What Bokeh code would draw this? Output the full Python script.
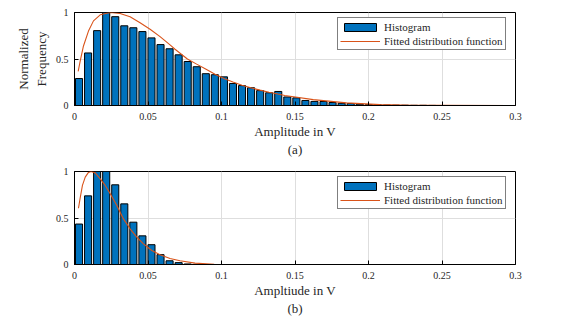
import numpy as np
from bokeh.plotting import figure
from bokeh.models import Range1d, FixedTicker, Legend, LegendItem
from bokeh.layouts import column
from bokeh.embed import file_html
from bokeh.resources import INLINE

# ---------------- data ----------------
bin_width = 0.00616

hist_a = [0.29, 0.565, 0.805, 1.0, 0.955, 0.857, 0.836, 0.795, 0.727, 0.655,
          0.61, 0.545, 0.473, 0.417, 0.342, 0.331, 0.308, 0.237, 0.214, 0.191,
          0.16, 0.137, 0.151, 0.092, 0.082, 0.054, 0.044, 0.043, 0.032, 0.024,
          0.021, 0.014, 0.009, 0.007, 0.005, 0.004, 0.003, 0.002, 0.002, 0.001]

hist_b = [0.435, 0.738, 1.0, 1.0, 0.857, 0.652, 0.455, 0.308, 0.213, 0.106,
          0.04, 0.02, 0.006, 0.002]

fit_a_x = [0.0025, 0.0039, 0.0061, 0.0095, 0.0129, 0.0175, 0.0243, 0.031, 0.0378,
           0.0446, 0.0514, 0.0582, 0.065, 0.0684, 0.0768, 0.0831, 0.0895, 0.0956,
           0.1017, 0.1078, 0.1139, 0.12, 0.1262, 0.1323, 0.1384, 0.1431, 0.1624,
           0.185, 0.2077, 0.23, 0.25, 0.3]
fit_a_y = [0.366, 0.48, 0.64, 0.80, 0.91, 0.975, 1.0, 0.99, 0.954,
           0.89, 0.82, 0.74, 0.652, 0.605, 0.50, 0.445, 0.39, 0.337,
           0.29, 0.252, 0.218, 0.19, 0.165, 0.143, 0.123, 0.108, 0.063,
           0.028, 0.009, 0.003, 0.001, 0.0]

fit_b_x = [0.0027, 0.0039, 0.0054, 0.0073, 0.0095, 0.0113, 0.0141, 0.0175, 0.0209,
           0.0243, 0.0288, 0.0333, 0.0378, 0.0424, 0.0469, 0.0526, 0.0582, 0.065,
           0.0718, 0.082, 0.095, 0.11, 0.3]
fit_b_y = [0.605, 0.72, 0.85, 0.94, 0.99, 1.0, 0.985, 0.92, 0.85,
           0.76, 0.634, 0.49, 0.384, 0.294, 0.222, 0.15, 0.104, 0.064,
           0.04, 0.015, 0.003, 0.0, 0.0]

x_ticks = [0, 0.05, 0.1, 0.15, 0.2, 0.25, 0.3]
x_tick_labels = ["0", "0.05", "0.1", "0.15", "0.2", "0.25", "0.3"]
y_ticks = [0, 0.5, 1]
y_tick_labels = ["0", "0.5", "1"]

legend_labels = ["Histogram", "Fitted distribution function"]

FONT = "Liberation Serif"
BAR = "#0072BD"
FIT = "#D95319"
GRID = "#dedede"
TXT = "#262626"


def make(hist, fx, fy, xlabel, ylabel, height, mb_top, mb_bottom):
    p = figure(width=560, height=height, x_range=Range1d(0, 0.3), y_range=Range1d(0, 1),
               output_backend="svg", toolbar_location=None,
               min_border_left=74, min_border_right=45,
               min_border_top=mb_top, min_border_bottom=mb_bottom)
    p.outline_line_color = "black"
    p.outline_line_width = 1
    p.background_fill_color = "white"
    p.border_fill_color = "white"

    centers = (np.arange(len(hist)) + 0.5) * bin_width
    r_bar = p.vbar(x=centers, top=hist, width=0.78 * bin_width,
                   fill_color=BAR, line_color="black", line_width=1)
    r_fit = p.line(fx, fy, line_color=FIT, line_width=1.1)

    xt = FixedTicker(ticks=x_ticks)
    yt = FixedTicker(ticks=y_ticks)
    xa = p.xaxis[0]
    ya = p.yaxis[0]
    xa.ticker = xt
    ya.ticker = yt
    xa.major_label_overrides = dict(zip(x_ticks, x_tick_labels))
    ya.major_label_overrides = dict(zip(y_ticks, y_tick_labels))
    for ax in (xa, ya):
        ax.major_tick_in = 4
        ax.major_tick_out = 0
        ax.minor_tick_in = 0
        ax.minor_tick_out = 0
        ax.axis_line_color = "black"
        ax.major_tick_line_color = "black"
        ax.major_label_text_font = FONT
        ax.major_label_text_font_size = "10px"
        ax.major_label_text_color = TXT
        ax.axis_label_text_font = FONT
        ax.axis_label_text_font_size = "13px"
        ax.axis_label_text_font_style = "normal"
        ax.axis_label_text_color = TXT
    xa.major_label_standoff = 7
    ya.major_label_standoff = 6
    xa.axis_label = xlabel
    xa.axis_label_standoff = 1
    if ylabel:
        ya.axis_label = ylabel
        ya.axis_label_standoff = 4

    p.xgrid.ticker = xt
    p.ygrid.ticker = yt
    p.xgrid.grid_line_color = GRID
    p.ygrid.grid_line_color = GRID

    legend = Legend(items=[LegendItem(label=legend_labels[0], renderers=[r_bar]),
                           LegendItem(label=legend_labels[1], renderers=[r_fit])],
                    location=(263, 55), padding=2, spacing=1, margin=0,
                    glyph_width=40, glyph_height=10, label_height=13, label_standoff=4,
                    label_text_font=FONT, label_text_font_size="11px",
                    label_text_color=TXT,
                    border_line_color="black", border_line_width=1,
                    background_fill_color="white", background_fill_alpha=1.0)
    p.add_layout(legend)
    return p


p1 = make(hist_a, fit_a_x, fit_a_y, "Amplitude in V\n(a)", "Normalized\nFrequency",
          163, 12, 58)
p2 = make(hist_b, fit_b_x, fit_b_y, "Ampltiude in V\n(b)", None,
          155, 8, 54)

layout = column(p1, p2, spacing=0)
open("out.html", "w").write(file_html(layout, INLINE))
